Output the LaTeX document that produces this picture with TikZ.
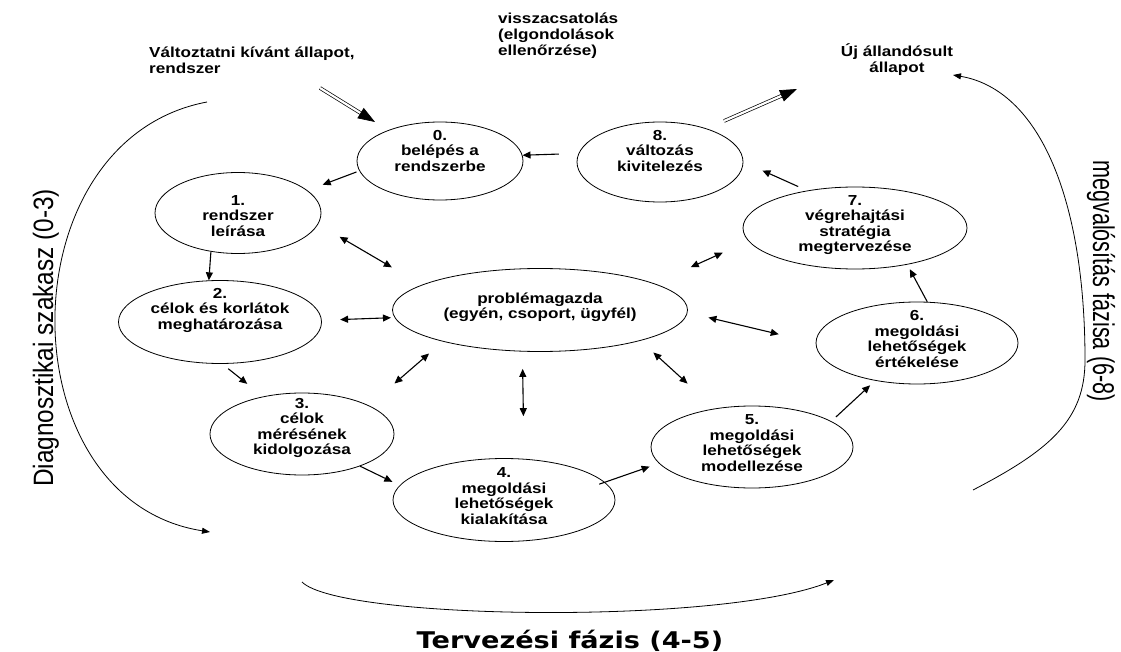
\documentclass[tikz,border=0pt]{standalone}
\usepackage{fontspec}
\setmainfont{Liberation Sans}[FakeStretch=1.18]
\newfontfamily\sidefont{Liberation Sans}[FakeStretch=0.87]
\newfontfamily\sidefontR{Liberation Sans}[FakeStretch=0.72]
\newfontfamily\planfont{DejaVu Sans}[FakeStretch=1.18]
\usetikzlibrary{shapes.geometric,arrows.meta,calc}

\begin{document}
\begin{tikzpicture}[x=1pt, y=-1pt,
  stage/.style={draw, ellipse, line width=0.8pt, inner sep=0pt},
  stagetext/.style={align=center, inner sep=0pt, font=\fontsize{14.5}{15.5}\selectfont\bfseries},
  note/.style={inner sep=0pt, font=\fontsize{14.5}{16}\selectfont\bfseries},
  flow/.style={-{Triangle[length=8pt,width=7pt]}, line width=1.1pt},
  link/.style={{Triangle[length=8pt,width=7pt]}-{Triangle[length=8pt,width=7pt]}, line width=1.1pt},
  sweep/.style={-{Triangle[length=8pt,width=6pt]}, line width=0.8pt},
  twin/.style={double, double distance=2.2pt, line width=0.7pt},
  twinhead/.style={-{Triangle[length=17pt,width=12pt]}, line width=0.7pt},
  phase/.style={inner sep=0pt, font=\fontsize{28}{30}\sidefont},
]
\fill[white] (0,0) rectangle (1121,652);
\useasboundingbox (0,0) rectangle (1121,652);

% the stages
\node[stage, minimum width=166pt, minimum height=78pt] (n0) at (440,161) {};
\node[stage, minimum width=166pt, minimum height=81pt] (n1) at (238,213) {};
\node[stage, minimum width=203pt, minimum height=83pt] (n2) at (220,322) {};
\node[stage, minimum width=184pt, minimum height=82pt] (n3) at (302,434) {};
\node[stage, minimum width=222pt, minimum height=83pt] (n4) at (504,500) {};
\node[stage, minimum width=202pt, minimum height=82pt] (n5) at (752,447) {};
\node[stage, minimum width=202pt, minimum height=82pt] (n6) at (917,343) {};
\node[stage, minimum width=224pt, minimum height=82pt] (n7) at (855,228) {};
\node[stage, minimum width=166pt, minimum height=80pt] (n8) at (660,162) {};
\node[stage, minimum width=295pt, minimum height=83pt] (P) at (540,310) {};

\node[stagetext] (t0) at ([yshift=10pt]n0.center) {0.\\belépés a\\rendszerbe};
\node[stagetext] (t1) at ([yshift=-3pt]n1.center) {1.\\rendszer\\leírása};
\node[stagetext] (t2) at ([yshift=12pt]n2.center) {2.\\célok és korlátok\\meghatározása};
\node[stagetext] (t3) at ([yshift=6pt]n3.center) {3.\\célok\\mérésének\\kidolgozása};
\node[stagetext] (t4) at ([yshift=4pt]n4.center) {4.\\megoldási\\lehetőségek\\kialakítása};
\node[stagetext] (t5) at ([yshift=4pt]n5.center) {5.\\megoldási\\lehetőségek\\modellezése};
\node[stagetext] (t6) at ([yshift=4pt]n6.center) {6.\\megoldási\\lehetőségek\\értékelése};
\node[stagetext] (t7) at ([yshift=3pt]n7.center) {7.\\végrehajtási\\stratégia\\megtervezése};
\node[stagetext] (t8) at ([yshift=11pt]n8.center) {8.\\változás\\kivitelezés};
\node[stagetext] (tP) at ([yshift=3pt]P.center) {problémagazda\\(egyén, csoport, ügyfél)};

% free texts (base = last line)
\node[note, align=left, anchor=base west] (wish) at (149,74) {Változtatni kívánt állapot,\\rendszer};
\node[note, align=left, anchor=base west] (loop) at (498,56) {visszacsatolás\\(elgondolások\\ellenőrzése)};
\node[note, align=center, anchor=base] (new) at (897,73) {Új állandósult\\állapot};

% cycle
\draw[flow, shorten <=19.7pt] (n8.174.4) -- (n0.4.9);
\draw[flow, shorten <=3pt, shorten >=16.2pt] (n0.187.1) -- (n1.18);
\draw[flow] (n1.235) -- (n2.105);
\draw[flow, shorten <=7.7pt, shorten >=20.2pt] (n2.-87.1) -- (n3.136.9);
\draw[flow, shorten >=8.1pt] (n3.-29.7) -- (n4.172);
\draw[flow, shorten <=-6pt, shorten >=9.8pt] (n4.10.7) -- (n5.190.6);
\draw[flow, shorten <=6.2pt, shorten >=6.8pt] (n5.18.3) -- (n6.222.5);
\draw[flow, shorten >=5.2pt] (n6.76.3) -- (n7.-35.3);
\draw[flow, shorten <=9.8pt, shorten >=20.8pt] (n7.142.4) -- (n8.0);

% problem owner
\draw[link, shorten <=24.8pt, shorten >=34.6pt] (n1.-8.3) -- (P.168);
\draw[link, shorten <=18.3pt, shorten >=3.6pt] (n2.1.7) -- (P.183.6);
\draw[link, shorten <=33.6pt, shorten >=18.2pt] (n3.23.2) -- (P.198.2);
\draw[link, shorten <=42.6pt, shorten >=17.3pt] (n4.64.8) -- (P.247.3);
\draw[link, shorten <=36.9pt, shorten >=17.4pt] (n5.134.8) -- (P.-17);
\draw[link, shorten <=37.9pt, shorten >=21.4pt] (n6.180) -- (P.-1.7);
\draw[link, shorten <=28.1pt, shorten >=39.6pt] (n7.187.7) -- (P.13.5);

% in and out
\coordinate (inTail) at (320,88);
\coordinate (inTip) at (375,122);
\coordinate (outTail) at (724,121);
\coordinate (outTip) at (797,89);
\draw[twin] (inTail) -- ($(inTip)!15pt!(inTail)$);
\draw[twinhead] ($(inTip)!17pt!(inTail)$) -- (inTip);
\draw[twin] (outTail) -- ($(outTip)!15pt!(outTail)$);
\draw[twinhead] ($(outTip)!17pt!(outTail)$) -- (outTip);

% phases
\draw[sweep] (207,102) .. controls (5,140) and (5,500) .. (210,532);
\draw[sweep] (302,582) .. controls (340,620) and (720,625) .. (834,580);
\draw[sweep] (973,490) .. controls (1050,450) and (1085,420) .. (1085,360)
  .. controls (1085,200) and (1040,90) .. (953,75);
\node[phase, rotate=90, anchor=base] (diag) at (53,338) {Diagnosztikai szakasz (0-3)};
\node[phase, rotate=-90, anchor=base, font=\fontsize{30}{32}\sidefontR] (impl) at (1093,281) {megvalósítás fázisa (6-8)};
\node[inner sep=0pt, anchor=base, font=\fontsize{23}{25}\planfont\bfseries] (plan) at (570,648) {Tervezési fázis (4-5)};
\end{tikzpicture}
\end{document}
